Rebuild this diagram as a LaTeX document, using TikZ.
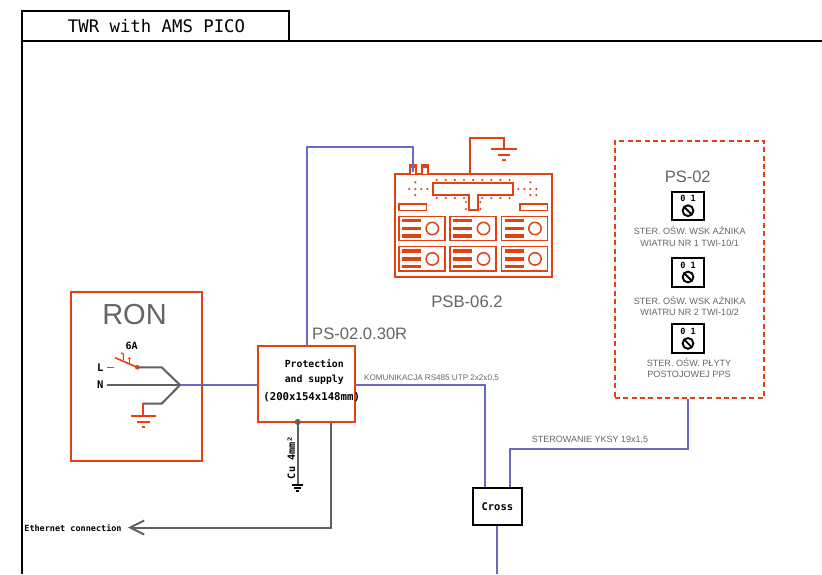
\documentclass[tikz,border=0pt]{standalone}
\usepackage{fontspec}
\setmainfont{Liberation Sans}
\newfontfamily\monof{DejaVu Sans Mono}
\usetikzlibrary{arrows.meta}
\definecolor{redl}{HTML}{E2420F}
\definecolor{bluel}{HTML}{6A6AC4}
\definecolor{greyl}{HTML}{606060}
\definecolor{greyt}{HTML}{666666}
\newcommand{\fsz}[1]{\fontsize{#1}{#1}\selectfont}
\tikzset{
 x=1pt,y=-1pt,
 redbox/.style={draw=redl,line width=2pt,fill=white,inner sep=0pt,outer sep=0pt},
 blackbox/.style={draw=black,line width=2pt,fill=white,inner sep=0pt,outer sep=0pt},
 bluewire/.style={draw=bluel,line width=2pt},
 greywire/.style={draw=greyl,line width=2pt},
 redwire/.style={draw=redl,line width=2pt},
 monolabel/.style={inner sep=0pt,font=\monof\bfseries\fsz{#1}},
 greylabel/.style={inner sep=0pt,text=greyt,font=\fsz{#1}},
 tinylabel/.style={inner sep=0pt,text=greyt,font=\fsz{9.1},align=center},
 pics/module/.style={code={
   \draw[redl,line width=1.5pt] (0,0) rectangle (46,24.4);
   \foreach \yy in {4.3,12.2,19.7}{\fill[redl] (2.8,\yy-1.8) rectangle (22,\yy+1.8);}
   \draw[redl,line width=1.5pt] (33.3,12.2) circle[radius=6.2];
 }},
 pics/switchicon/.style={code={
   \draw[black,line width=2pt,fill=white] (0,0) rectangle (31.4,28.6);
   \node[inner sep=0pt,font=\monof\bfseries\fsz{8.5}] at (15.7,7) {0 1};
   \draw[black,line width=1.9pt] (15.7,19) circle[radius=5.4];
   \draw[black,line width=1.9pt] (12,15.3) -- (19.4,22.7);
 }},
 pics/gnd/.style args={#1/#2/#3/#4/#5/#6}{code={
   \draw[#6] (-#1,0) -- (#1,0);
   \draw[#6] (-#2,#4) -- (#2,#4);
   \draw[#6] (-#3,#5) -- (#3,#5);
 }},
}
\begin{document}
\begin{tikzpicture}
\useasboundingbox (0,0) rectangle (822,574);
\fill[white] (0,0) rectangle (822,574);
% frame and title
\draw[black,line width=1.8pt] (22,574) -- (22,11) -- (289,11) -- (289,41);
\draw[black,line width=1.8pt] (22,41) -- (822,41);
\node[inner sep=0pt,font=\monof\fsz{17.3}] (title) at (156.5,26) {TWR with AMS PICO};

% main boxes
\node[redbox,minimum width=131.3pt,minimum height=168.7pt] (ron) at (136.35,376.65) {};
\node[redbox,minimum width=97pt,minimum height=76pt] (prot) at (306.8,384) {};
\node[blackbox,minimum width=48.7pt,minimum height=37pt] (cross) at (497.35,506.5) {};
\node[draw=redl,line width=2pt,dash pattern=on 5pt off 3.4pt,inner sep=0pt,outer sep=0pt,minimum width=149.3pt,minimum height=257pt] (ps) at (689.35,269.2) {};
\node[redbox,minimum width=157.3pt,minimum height=102.7pt] (psb) at (473.35,225.35) {};

% named connector ends
\coordinate (pTop) at (307,346);
\coordinate (psbIn) at (412.5,172);
\coordinate (pR) at (355.3,385);
\coordinate (pL) at (258.3,385);
\coordinate (hub) at (180,385);
\coordinate (crossA) at (485,487);
\coordinate (crossB) at (509.7,487);
\coordinate (crossC) at (497.3,526);
\coordinate (downEnd) at (497.3,574);
\coordinate (psBot) at (688.3,398.7);
\coordinate (pGnd) at (297.7,422);
\coordinate (gndEnd) at (297.7,485);
\coordinate (pEth) at (331,423);
\coordinate (ethEnd) at (128,527.5);
\coordinate (psbGnd) at (470,174);
\coordinate (gndTop) at (504,149.3);

% blue wires
\draw[bluewire] (pTop) |- (psbIn |- 0,147) -- (psbIn);
\draw[bluewire] (hub) -- (pL);
\draw[bluewire] (pR) -| (crossA);
\draw[bluewire] (crossB) |- (688.3,449.3) -- (psBot);
\draw[bluewire] (crossC) -- (downEnd);

% PSB-06.2 detail
\draw[redl,line width=1.7pt,fill=white] (409.7,174) -- (409.7,165) -- (415.7,165) -- (415.7,174);
\draw[redl,line width=1.7pt,fill=white] (421.7,174) -- (421.7,165) -- (428.3,165) -- (428.3,174);
\fill[redl] (409,164.5) rectangle (416.4,167.5);
\fill[redl] (421,164.5) rectangle (429,167.5);
\draw[bluewire] (psbIn |- 0,160) -- (psbIn);
\draw[redwire] (psbGnd) -- (470,137.7) -| (gndTop);
\pic at (gndTop) {gnd={12.7/6.2/1.7/5.7/11/redwire}};
\draw[redl,line width=1.7pt] (433.3,182.7) -- (512.7,182.7) -- (512.7,195.3) -- (478,195.3) -- (478,210) -- (468.7,210) -- (468.7,195.3) -- (433.3,195.3) -- cycle;
\foreach \i in {0,...,8}{\fill[redl] (436.7+\i*9.1,180) circle[radius=1.2];}
\foreach \i in {0,1,2,3,5,6,7,8}{\fill[redl] (436.7+\i*9.1,198) circle[radius=1.2];}
\foreach \p/\q in {466/202,466/209,480.3/202,480.3/209,409.3/189,415.3/189,421.3/189,427.3/189,415.3/182.3,415.3/195,518.3/189,524.3/189,530.3/189,536.3/189,530.3/182.3,530.3/195,536.3/195}{\fill[redl] (\p,\q) circle[radius=1.2];}
\draw[redl,line width=1.5pt] (399,204) rectangle (426.7,210.3);
\draw[redl,line width=1.5pt] (520,204) rectangle (547.7,210.3);
\pic at (399,216.3) {module};
\pic at (450.2,216.3) {module};
\pic at (501.7,216.3) {module};
\pic at (399,246.7) {module};
\pic at (450.2,246.7) {module};
\pic at (501.7,246.7) {module};
\node[greylabel=16.7] (psbl) at (467,301.7) {PSB-06.2};

% PS-02
\node[greylabel=16.5] (psl) at (687.7,176.7) {PS-02};
\pic at (672.3,191.7) {switchicon};
\pic at (672.3,258) {switchicon};
\pic at (672.3,324.4) {switchicon};
\node[tinylabel] (t1a) at (689.7,230.7) {STER. OŚW. WSK AŹNIKA};
\node[tinylabel] (t1b) at (689.7,243) {WIATRU NR 1 TWI-10/1};
\node[tinylabel] (t2a) at (689.7,300.5) {STER. OŚW. WSK AŹNIKA};
\node[tinylabel] (t2b) at (689.7,312.5) {WIATRU NR 2 TWI-10/2};
\node[tinylabel] (t3a) at (689,362) {STER. OŚW. PŁYTY};
\node[tinylabel] (t3b) at (689,374) {POSTOJOWEJ PPS};

% RON
\node[greylabel=29] (ronl) at (134.5,314.3) {RON};
\node[monolabel=10] (l6a) at (131.7,346.3) {6A};
\node[monolabel=10.5] (ll) at (100.3,367.3) {L};
\node[monolabel=10.5] (ln) at (100.3,385) {N};
\draw[redl,line width=1.6pt] (107,367.3) -- (114,367.3);
\draw[redl,line width=1.6pt] (115,357.7) -- (137.3,367.3);
\draw[redl,line width=1.4pt] (123.5,354) -- (123.5,360) (121,353) -- (123.5,354);
\draw[redl,line width=1.4pt] (129.5,358) -- (129.5,363);
\fill[redl] (137.3,367.3) circle[radius=2.3];
\fill[redl] (129.5,358.5) circle[radius=1.4];
\draw[greywire] (137.3,367.3) -- (161.7,367.3) -- (hub);
\draw[greywire] (106.7,385) -- (hub);
\draw[greywire] (hub) -- (161.7,403.7) -- (142.5,403.7);
\draw[redwire] (143.3,403) -- (143.3,415.7);
\pic at (143.5,415.7) {gnd={12.7/6.3/1.5/6.3/11.3/redwire}};

% Protection
\node[monolabel=9.8] (pa) at (314.3,364) {Protection};
\node[monolabel=9.8] (pb) at (314.3,380) {and supply};
\node[monolabel=10.7] (pc) at (311.7,397.3) {(200x154x148mm)};
\node[greylabel=16.6] (psr) at (359.7,333.3) {PS-02.0.30R};
\node[greylabel=8.1] (kom) at (431.5,378) {KOMUNIKACJA RS485 UTP 2x2x0,5};
\node[greylabel=9] (ster) at (590,440) {STEROWANIE YKSY 19x1,5};
\node[monolabel=10.5] (crosst) at (cross) {Cross};

% earth and ethernet
\draw[greywire] (pGnd) -- (gndEnd);
\fill[greyl] (pGnd) circle[radius=3];
\pic at (gndEnd) {gnd={5.3/3.3/1.3/3/6/{draw=black,line width=1.4pt}}};
\node[monolabel=10.2,rotate=90] (cu) at (291.3,457.5) {Cu 4mm²};
\node[monolabel=8.5] (eth) at (73,528) {Ethernet connection};
\draw[greywire,-{Straight Barb[length=14pt,width=14pt,line width=2pt]}] (pEth) |- (ethEnd);
\end{tikzpicture}
\end{document}
